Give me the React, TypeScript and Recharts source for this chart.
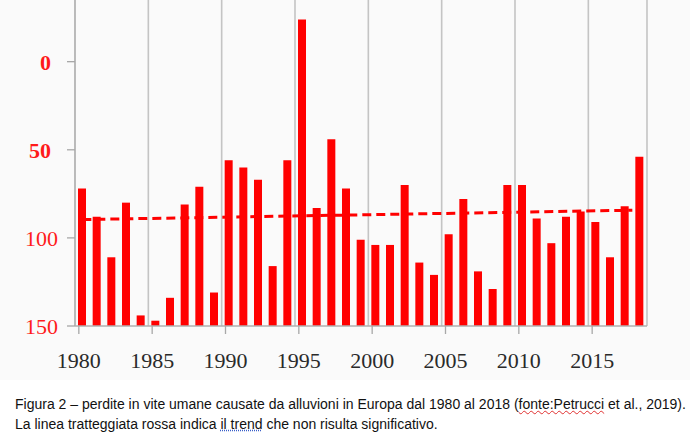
import React from 'react';
import { ComposedChart, Bar, XAxis, YAxis, ReferenceLine } from 'recharts';

const years = [
  1980, 1981, 1982, 1983, 1984, 1985, 1986, 1987, 1988, 1989,
  1990, 1991, 1992, 1993, 1994, 1995, 1996, 1997, 1998, 1999,
  2000, 2001, 2002, 2003, 2004, 2005, 2006, 2007, 2008, 2009,
  2010, 2011, 2012, 2013, 2014, 2015, 2016, 2017, 2018,
];
const deaths = [
  72, 88, 111, 80, 144, 147, 134, 81, 71, 131,
  56, 60, 67, 116, 56, -24, 83, 44, 72, 101,
  104, 104, 70, 114, 121, 98, 78, 119, 129, 70,
  70, 89, 103, 88, 85, 91, 111, 82, 54,
];
const yTicks = [0, 50, 100, 150];
const yTicksBold = [0, 50];
const xTicks = [1980, 1985, 1990, 1995, 2000, 2005, 2010, 2015];
const gridYears = [1980, 1985, 1990, 1995, 2000, 2005, 2010, 2015];
const trendYears = [1980, 2017.5];
const trendValues = [89.6, 84.3];
const baseline = 150;

const data = years.map((year, i) => ({ year, deaths: deaths[i] }));

const serif = "'Liberation Serif', 'DejaVu Serif', serif";

const XTick = (props: any) => {
  const { x, y, payload } = props;
  const tx = x - 3.5;
  return (
    <g>
      <line x1={tx} x2={tx} y1={y - 10} y2={y - 2} stroke="#a8a8a8" strokeWidth={1.3} />
      <text x={tx} y={y + 32} textAnchor="middle" fill="#2a2a2a" fontSize={22} fontFamily={serif}>
        {payload.value}
      </text>
    </g>
  );
};

const YTick = (props: any) => {
  const { x, y, payload } = props;
  const bold = yTicksBold.includes(payload.value);
  return (
    <text
      x={bold ? x - 7 : x}
      y={y}
      dy="0.36em"
      textAnchor="end"
      fill="#ff1a1a"
      fontSize={22}
      fontWeight={bold ? 'bold' : 'normal'}
      fontFamily={serif}
    >
      {payload.value}
    </text>
  );
};

export default function App() {
  return (
    <div style={{ position: 'absolute', left: 0, top: 0, width: 690, height: 444, background: '#ffffff', overflow: 'hidden' }}>
      <div style={{ position: 'absolute', left: 0, top: 0, width: 690, height: 380, background: '#fafafa' }}>
        <ComposedChart width={690} height={380} data={data} margin={{ top: 0, right: 43, left: 0, bottom: 0 }}>
          <XAxis
            dataKey="year"
            type="number"
            domain={[1979.5, 2018.5]}
            ticks={xTicks}
            allowDataOverflow
            height={54}
            tickLine={false}
            tickSize={8}
            tickMargin={2}
            tick={<XTick />}
            axisLine={{ stroke: '#b0b0b0', strokeWidth: 1.3 }}
          />
          <YAxis
            type="number"
            reversed
            domain={[-35, 150]}
            ticks={yTicks}
            allowDataOverflow
            width={75}
            tickSize={8}
            tickMargin={9}
            tickLine={{ stroke: '#a8a8a8', strokeWidth: 1.3 }}
            axisLine={{ stroke: '#b0b0b0', strokeWidth: 1.3 }}
            tick={<YTick />}
          />
          {gridYears.map((g) => (
            <ReferenceLine key={g} x={g - 0.5} stroke="#c4c4c4" strokeWidth={1.6} />
          ))}
          <ReferenceLine x={years[years.length - 1] + 0.5} stroke="#c4c4c4" strokeWidth={1.6} />
          <Bar
            dataKey={(d: any) => [baseline, d.deaths]}
            barSize={8}
            fill="#ff0000"
            isAnimationActive={false}
          />
          <ReferenceLine
            segment={[
              { x: trendYears[0], y: trendValues[0] },
              { x: trendYears[1], y: trendValues[1] },
            ]}
            stroke="#ff0000"
            strokeWidth={3}
            strokeDasharray="9 5"
          />
        </ComposedChart>
      </div>
      <div
        style={{
          position: 'absolute',
          left: 15,
          top: 394,
          fontFamily: "'Liberation Sans Narrow', 'Liberation Sans', sans-serif",
          fontSize: 14,
          lineHeight: '20px',
          color: '#111',
          whiteSpace: 'nowrap',
        }}
      >
        Figura 2 – perdite in vite umane causate da alluvioni in Europa dal 1980 al 2018 (
        <span style={{ textDecoration: 'underline wavy #e03030', textDecorationThickness: 1 }}>fonte:Petrucci</span> et al., 2019).
        <br />
        La linea tratteggiata rossa indica{' '}
        <span style={{ textDecoration: 'underline dotted #3a5fc8' }}>il trend</span> che non risulta significativo.
      </div>
    </div>
  );
}
